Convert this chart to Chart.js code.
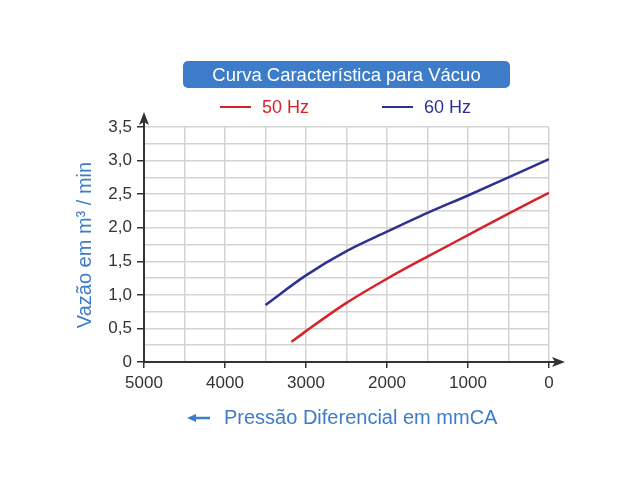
<!DOCTYPE html>
<html>
<head>
<meta charset="utf-8">
<script src="https://cdn.jsdelivr.net/npm/chart.js@4"></script>
<style>
  html, body { margin: 0; padding: 0; background: #fff; }
  #wrap { width: 640px; height: 480px; }
</style>
</head>
<body>
<div id="wrap"><canvas id="c" width="640" height="480"></canvas></div>
<script>
const chartTitle = "Curva Característica para Vácuo";
const yTitle = "Vazão em m³ / min";
const xTitle = "Pressão Diferencial em mmCA";

const seriesNames = ["50 Hz", "60 Hz"];
const pressure50 = [3180, 3000, 2500, 2000, 1500, 1000, 500, 0];
const flow50 = [0.30, 0.46, 0.88, 1.24, 1.57, 1.89, 2.21, 2.52];
const pressure60 = [3500, 3000, 2500, 2000, 1500, 1000, 500, 0];
const flow60 = [0.85, 1.29, 1.65, 1.94, 2.22, 2.48, 2.75, 3.02];

const FONT = "'Liberation Sans', Arial, sans-serif";
const RED = "#d6232b";
const NAVY = "#2d3191";
const BLUE = "#3d7cc9";
const AXIS = "#333333";
const GRID = "#d4d4d4";

function pts(xs, ys) {
    return xs.map((x, i) => ({ x: x, y: ys[i] }));
}

function isMajor(v, step) {
    return Math.abs(v / step - Math.round(v / step)) < 1e-6;
}

const decor = {
    id: "decor",
    afterDraw(chart) {
        const ctx = chart.ctx;
        const a = chart.chartArea;
        ctx.save();

        // axis arrows
        ctx.strokeStyle = AXIS;
        ctx.fillStyle = AXIS;
        ctx.lineWidth = 2;
        ctx.beginPath();
        ctx.moveTo(a.left, a.top);
        ctx.lineTo(a.left, a.top - 8);
        ctx.moveTo(a.right, a.bottom);
        ctx.lineTo(a.right + 8, a.bottom);
        ctx.stroke();
        ctx.beginPath();
        ctx.moveTo(a.left, a.top - 15);
        ctx.lineTo(a.left - 5, a.top - 2);
        ctx.lineTo(a.left, a.top - 5);
        ctx.lineTo(a.left + 5, a.top - 2);
        ctx.closePath();
        ctx.fill();
        ctx.beginPath();
        ctx.moveTo(a.right + 16, a.bottom);
        ctx.lineTo(a.right + 3, a.bottom - 5);
        ctx.lineTo(a.right + 6, a.bottom);
        ctx.lineTo(a.right + 3, a.bottom + 5);
        ctx.closePath();
        ctx.fill();

        // title box
        const bx = 183, by = 61, bw = 327, bh = 27, r = 5;
        ctx.fillStyle = BLUE;
        ctx.beginPath();
        ctx.moveTo(bx + r, by);
        ctx.arcTo(bx + bw, by, bx + bw, by + bh, r);
        ctx.arcTo(bx + bw, by + bh, bx, by + bh, r);
        ctx.arcTo(bx, by + bh, bx, by, r);
        ctx.arcTo(bx, by, bx + bw, by, r);
        ctx.closePath();
        ctx.fill();
        ctx.fillStyle = "#ffffff";
        ctx.font = "18.5px " + FONT;
        ctx.textAlign = "center";
        ctx.textBaseline = "middle";
        ctx.fillText(chartTitle, bx + bw / 2, by + bh / 2 + 1);

        // legend
        const legX = [220, 382];
        ctx.textAlign = "left";
        ctx.font = "18px " + FONT;
        chart.data.datasets.forEach((ds, i) => {
            ctx.strokeStyle = ds.borderColor;
            ctx.lineWidth = 2;
            ctx.beginPath();
            ctx.moveTo(legX[i], 107);
            ctx.lineTo(legX[i] + 31, 107);
            ctx.stroke();
            ctx.fillStyle = ds.borderColor;
            ctx.fillText(ds.label, legX[i] + 42, 108);
        });

        // y title
        ctx.fillStyle = BLUE;
        ctx.font = "20px " + FONT;
        ctx.textAlign = "center";
        ctx.save();
        ctx.translate(85, 245);
        ctx.rotate(-Math.PI / 2);
        ctx.fillText(yTitle, 0, 0);
        ctx.restore();

        // x title with arrow
        ctx.textAlign = "left";
        ctx.fillText(xTitle, 224, 418);
        ctx.strokeStyle = BLUE;
        ctx.lineWidth = 2.5;
        ctx.beginPath();
        ctx.moveTo(194, 418);
        ctx.lineTo(210, 418);
        ctx.stroke();
        ctx.beginPath();
        ctx.moveTo(187, 418);
        ctx.lineTo(196, 414);
        ctx.lineTo(196, 422);
        ctx.closePath();
        ctx.fill();

        ctx.restore();
    }
};

new Chart(document.getElementById("c"), {
    type: "line",
    data: {
        datasets: [
            {
                label: seriesNames[0],
                data: pts(pressure50, flow50),
                borderColor: RED,
                borderWidth: 2.5,
                pointRadius: 0,
                cubicInterpolationMode: "monotone",
                fill: false
            },
            {
                label: seriesNames[1],
                data: pts(pressure60, flow60),
                borderColor: NAVY,
                borderWidth: 2.5,
                pointRadius: 0,
                cubicInterpolationMode: "monotone",
                fill: false
            }
        ]
    },
    options: {
        responsive: false,
        animation: false,
        devicePixelRatio: 1,
        layout: { padding: { top: 127, right: 91, left: 0, bottom: 0 } },
        plugins: {
            legend: { display: false },
            title: { display: false },
            tooltip: { enabled: false }
        },
        scales: {
            x: {
                type: "linear",
                reverse: true,
                min: 0,
                max: 5000,
                afterFit: (s) => { s.height = 118; },
                ticks: {
                    stepSize: 500,
                    autoSkip: false,
                    maxRotation: 0,
                    padding: 5,
                    color: AXIS,
                    font: { family: FONT, size: 17 },
                    callback: (v) => (isMajor(v, 1000) ? String(v) : "")
                },
                grid: {
                    color: GRID,
                    lineWidth: 1.5,
                    tickLength: 6,
                    tickWidth: 1.5,
                    tickColor: (c) => (c.tick && isMajor(c.tick.value, 1000) ? AXIS : "rgba(0,0,0,0)")
                },
                border: { color: AXIS, width: 2 }
            },
            y: {
                type: "linear",
                min: 0,
                max: 3.5,
                afterFit: (s) => { s.width = 144; },
                ticks: {
                    stepSize: 0.25,
                    autoSkip: false,
                    padding: 5,
                    color: AXIS,
                    font: { family: FONT, size: 17 },
                    callback: (v) => {
                        if (!isMajor(v, 0.5)) return "";
                        if (v === 0) return "0";
                        return v.toFixed(1).replace(".", ",");
                    }
                },
                grid: {
                    color: GRID,
                    lineWidth: 1.5,
                    tickLength: 7,
                    tickWidth: 1.5,
                    tickColor: (c) => (c.tick && isMajor(c.tick.value, 0.5) ? AXIS : "rgba(0,0,0,0)")
                },
                border: { color: AXIS, width: 2 }
            }
        }
    },
    plugins: [decor]
});
</script>
</body>
</html>
